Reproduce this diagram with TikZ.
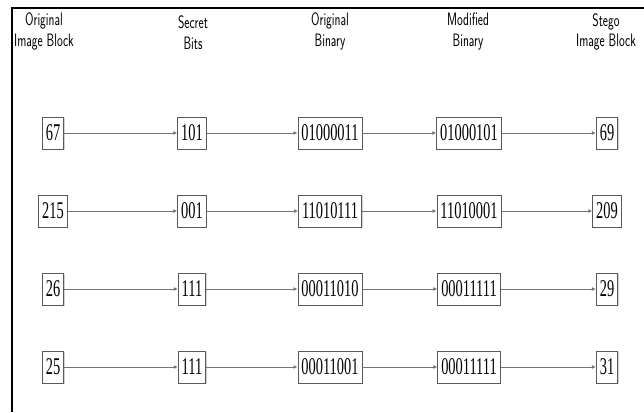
\documentclass[tikz,border=0pt]{standalone}
\usepackage{graphicx}
\usepackage{fontspec}
\newfontfamily\digitfont{Liberation Serif}
\usetikzlibrary{arrows.meta,shadows}
\newcommand\sqz[1]{\scalebox{0.6}[1]{#1}}
\newcommand\hdr[2]{\scalebox{0.68}[1]{\sffamily\fontsize{18}{20}\selectfont\begin{tabular}{@{}c@{}}#1\\#2\end{tabular}}}
\tikzset{
  valbox/.style={draw=black!65, line width=0.9pt, fill=white, inner xsep=3.5pt, inner ysep=0pt,
    minimum height=32pt, font=\digitfont\fontsize{24}{26}\selectfont,
    drop shadow={shadow xshift=1pt, shadow yshift=-1.2pt, opacity=0.35, fill=black!50}},
  flow/.style={draw=black!55, line width=0.8pt, -{Latex[length=4pt,width=4pt]}},
  header/.style={inner sep=0pt, anchor=center},
  frameline/.style={line width=1.4pt, black}
}
\begin{document}
\begin{tikzpicture}[x=1pt,y=-1pt]
\useasboundingbox (0,0) rectangle (644,412);
\coordinate (fa) at (644,8);
\coordinate (fb) at (12,8);
\coordinate (fc) at (12,412);
\draw[frameline] (fa) -- (fb) -- (fc);
% headers
\node[header] (h1) at (44,32) {\hdr{Original}{Image Block}};
\node[header] (h2) at (193,35) {\hdr{Secret}{Bits}};
\node[header] (h3) at (330,32) {\hdr{Original}{Binary}};
\node[header] (h4) at (468,32) {\hdr{Modified}{Binary}};
\node[header] (h5) at (606,33) {\hdr{Stego}{Image Block}};
% rows
\foreach \r/\y/\a/\b/\c/\d/\e in {
  1/133/67/101/01000011/01000101/69,
  2/211/215/001/11010111/11010001/209,
  3/289/26/111/00011010/00011111/29,
  4/367/25/111/00011001/00011111/31}{
  \node[valbox] (a\r) at (53,\y) {\sqz{\a}};
  \node[valbox] (b\r) at (192,\y) {\sqz{\b}};
  \node[valbox] (c\r) at (330,\y) {\sqz{\c}};
  \node[valbox] (d\r) at (469,\y) {\sqz{\d}};
  \node[valbox] (e\r) at (607,\y) {\sqz{\e}};
  \draw[flow] (a\r) -- (b\r);
  \draw[flow] (b\r) -- (c\r);
  \draw[flow] (c\r) -- (d\r);
  \draw[flow] (d\r) -- (e\r);
}
\end{tikzpicture}
\end{document}
